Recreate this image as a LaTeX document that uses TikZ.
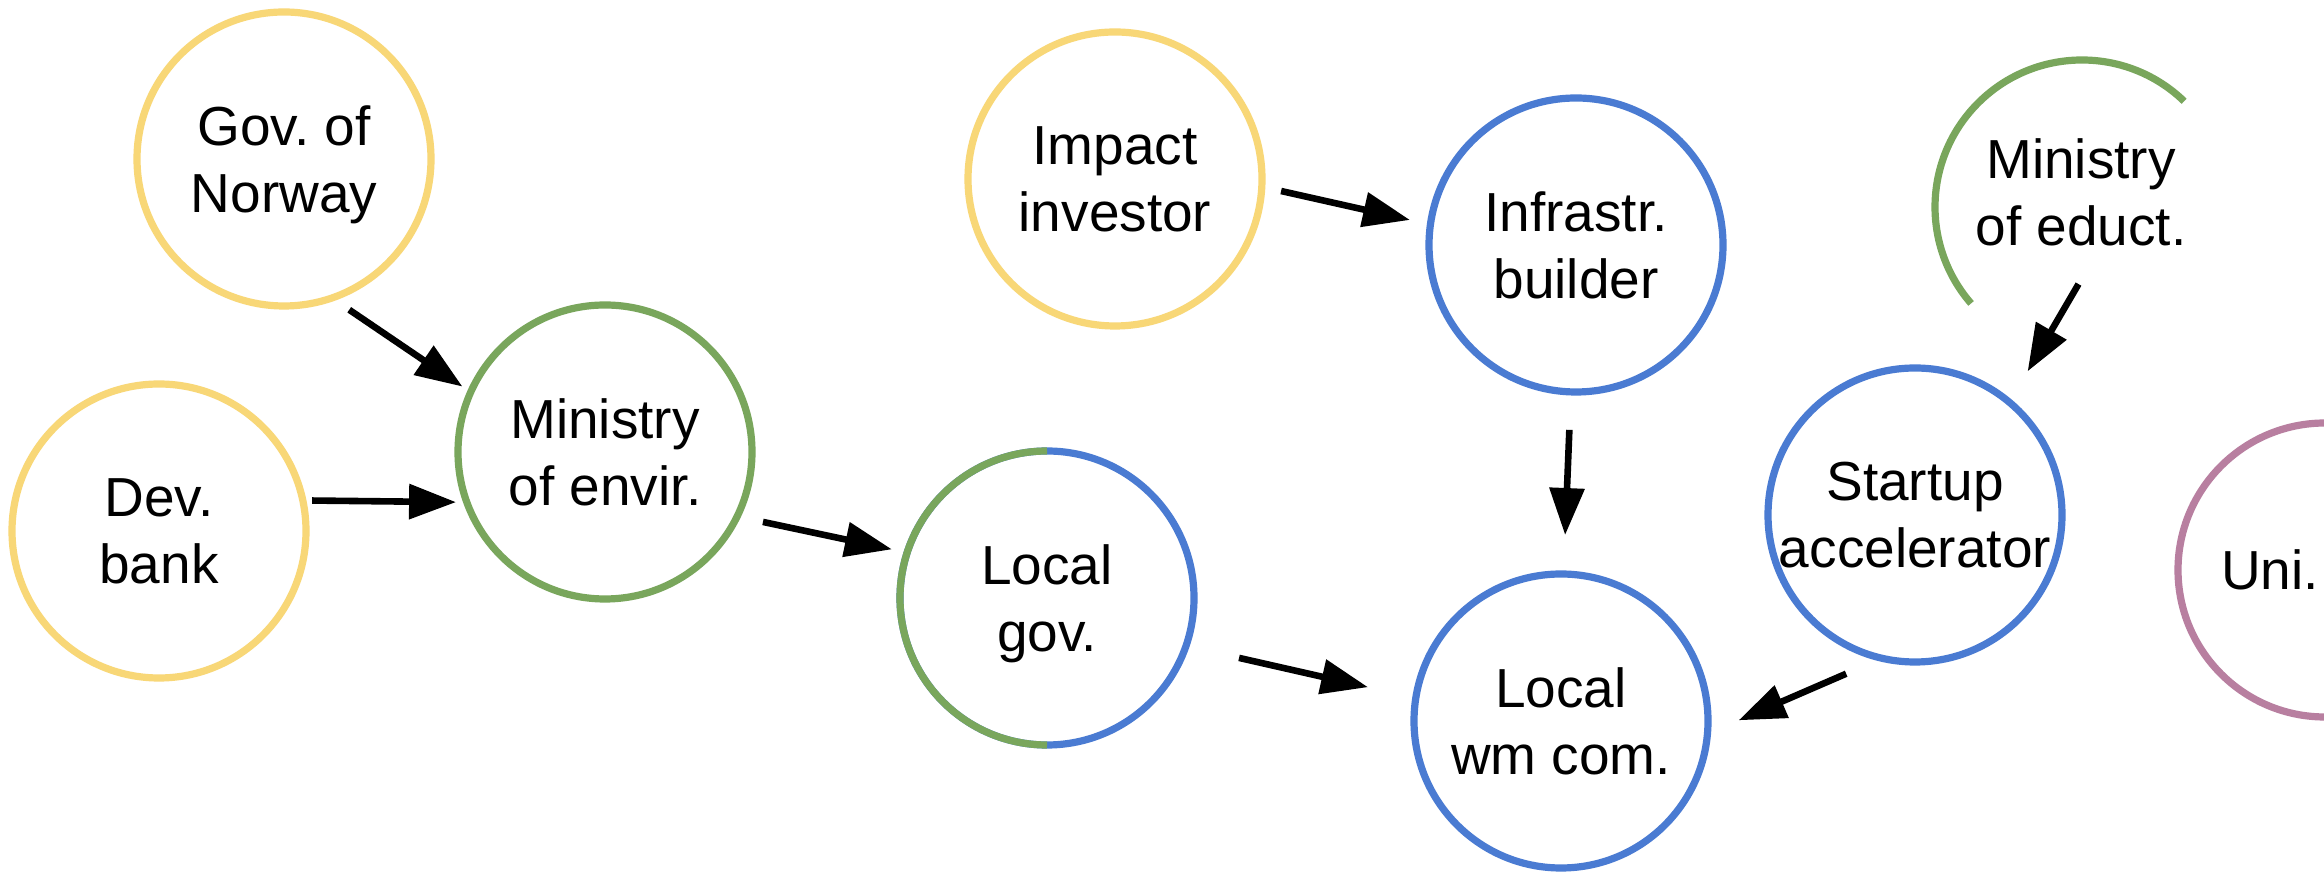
\documentclass[tikz,border=0pt]{standalone}
\usepackage{fontspec}
\setmainfont{Liberation Sans}
\usepackage{tikz}
\usetikzlibrary{arrows.meta}

\definecolor{fundyellow}{HTML}{F8D777}
\definecolor{govgreen}{HTML}{79A65C}
\definecolor{privblue}{HTML}{4A7BD2}
\definecolor{unimauve}{HTML}{B87FA0}
\newcommand\actorfont{\fontsize{27.5pt}{33.5pt}\selectfont\frenchspacing}

\begin{document}
\begin{tikzpicture}[x=0.5pt,y=0.5pt,
    actor/.style={circle,draw,line width=3.6pt,minimum size=147pt,inner sep=0pt,
      outer sep=0pt,align=center,text depth=0pt,font=\actorfont},
    flow/.style={line width=3.3pt,-{Triangle[length=23.5pt,width=17pt]}}]
  \path[use as bounding box,fill=white] (0,0) rectangle (2324,888);
  \clip (0,0) rectangle (2324,888);
  % funders
  \node[actor,draw=fundyellow] (gov) at (284,729) {Gov. of\\Norway};
  \node[actor,draw=fundyellow] (dev) at (159,357) {Dev.\\bank};
  \node[actor,draw=fundyellow] (impact) at (1115,709) {Impact\\investor};
  % ministries
  \node[font=\actorfont,align=center,inner sep=0pt] (minedu) at (2081,696) {Ministry\\of educt.};
  \draw[govgreen,line width=3.6pt] (minedu.center) ++(1,-15) ++(46:147)
    arc[start angle=46,end angle=221,radius=147];
  \node[actor,draw=govgreen] (minenv) at (605,436) {Ministry\\of envir.};
  % local actors
  \node[actor,draw=privblue] (lgov) at (1047,290) {Local\\gov.};
  \draw[govgreen,line width=3.6pt] (lgov.90) arc[start angle=90,end angle=270,radius=147];
  \node[actor,draw=privblue] (infra) at (1576,643) {Infrastr.\\builder};
  \node[actor,draw=privblue] (wm) at (1561,167) {Local\\wm com.};
  \node[actor,draw=privblue] (startup) at (1915,373) {Startup\\accelerator};
  \node[actor,draw=unimauve] (uni) at (2325,318) {\mbox{Uni.\kern55pt}};
  % flows
  \draw[flow,shorten <=10.5pt,shorten >=5pt] (gov.-71) -- (minenv.156);
  \draw[flow,shorten <=4.7pt,shorten >=5.4pt] (dev.12) -- (minenv.-160);
  \draw[flow,shorten <=13.2pt,shorten >=7.8pt] (minenv.-26) -- (lgov.162);
  \draw[flow,shorten <=9.9pt,shorten >=10.5pt] (impact.-3) -- (infra.172);
  \draw[flow,shorten <=19pt,shorten >=19.5pt] (infra.-92) -- (wm.89);
  \draw[flow,shorten <=27.2pt,shorten >=24.5pt] (lgov.-19) -- (wm.171);
  \draw[flow,shorten <=22pt,shorten >=18pt] (minedu.-70) -- (startup.50);
  \draw[flow,shorten <=19.5pt,shorten >=17pt] (startup.-103) -- (wm.-5.5);
\end{tikzpicture}
\end{document}
